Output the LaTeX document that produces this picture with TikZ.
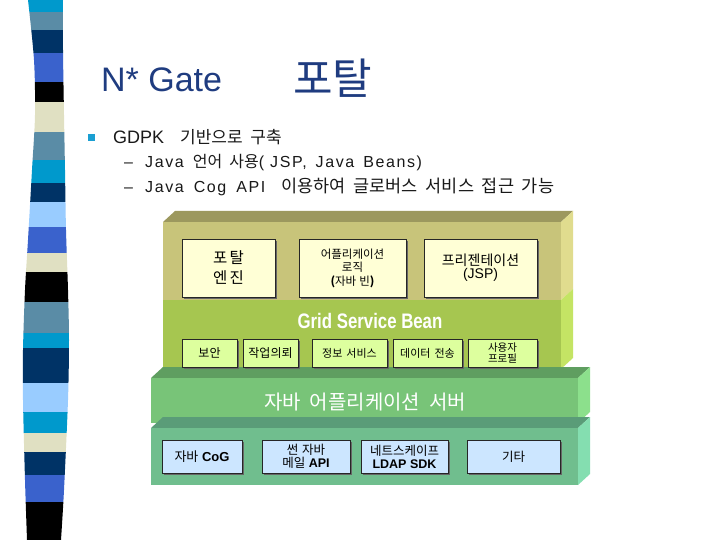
\documentclass[tikz,border=0pt]{standalone}
\usepackage{fontspec}
\setmainfont{Liberation Sans}
\newfontfamily\kr{Noto Sans CJK KR}
\newfontfamily\krw[WordSpace=2]{Noto Sans CJK KR}
\newfontfamily\latw[LetterSpace=10]{Liberation Sans}
\newcommand{\wsp}[1]{\hspace{#1pt}}
\usetikzlibrary{shadows}
\definecolor{sCyan}{HTML}{0099CC}
\definecolor{sSteel}{HTML}{5A8CA6}
\definecolor{sNavy}{HTML}{003366}
\definecolor{sRoyal}{HTML}{3A62CC}
\definecolor{sBeige}{HTML}{E0E0C2}
\definecolor{sLight}{HTML}{99CCFF}
\definecolor{titleblue}{HTML}{1F3C80}
\definecolor{bulletblue}{HTML}{1A9FD2}
\definecolor{oliveTop}{HTML}{9C985E}
\definecolor{oliveFront}{HTML}{C8C47A}
\definecolor{oliveSide}{HTML}{E0DC8E}
\definecolor{grnFront}{HTML}{A6C650}
\definecolor{grnSide}{HTML}{C4E464}
\definecolor{srvTop}{HTML}{5F9E60}
\definecolor{srvFront}{HTML}{78C478}
\definecolor{srvSide}{HTML}{8CE08C}
\definecolor{botTop}{HTML}{5A9C78}
\definecolor{botFront}{HTML}{70BE8E}
\definecolor{botSide}{HTML}{84DEB0}
\definecolor{boxY}{HTML}{FFFFD6}
\definecolor{boxG}{HTML}{DDFF9E}
\definecolor{boxB}{HTML}{CCE6FF}
\tikzset{
  basebox/.style={draw=black!85, line width=0.7pt, align=center, inner sep=1pt,
    general shadow={fill=black!60, shadow xshift=2pt, shadow yshift=-2pt}},
  ybox/.style={basebox, fill=boxY, minimum height=58pt},
  gbox/.style={basebox, fill=boxG, minimum height=28pt},
  bbox/.style={basebox, fill=boxB, minimum height=33pt},
  bodytext/.style={anchor=base west, inner sep=0pt, text=black!90}
}
\begin{document}
\begin{tikzpicture}[x=1pt,y=-1pt]
\useasboundingbox (0,0) rectangle (720,540);
\fill[white] (0,0) rectangle (720,540);
% left stripe
\begin{scope}
\clip plot[smooth] coordinates {(28,0) (34,60) (35,115) (32,170) (28,240) (25,290) (23,350) (23,400) (25,480) (27,540)}
  -- plot[smooth] coordinates {(61,540) (64,490) (68,400) (69,340) (68,290) (66,230) (65,170) (64,115) (63,50) (63,0)} -- cycle;
\fill[sCyan]  (10,0)   rectangle (80,12);
\fill[sSteel] (10,12)  rectangle (80,30);
\fill[sNavy]  (10,30)  rectangle (80,53);
\fill[sRoyal] (10,53)  rectangle (80,82);
\fill[black]  (10,82)  rectangle (80,102);
\fill[sBeige] (10,102) rectangle (80,132);
\fill[sSteel] (10,132) rectangle (80,160);
\fill[sCyan]  (10,160) rectangle (80,183);
\fill[sNavy]  (10,183) rectangle (80,202);
\fill[sLight] (10,202) rectangle (80,227);
\fill[sRoyal] (10,227) rectangle (80,253);
\fill[sBeige] (10,253) rectangle (80,272);
\fill[black]  (10,272) rectangle (80,302);
\fill[sSteel] (10,302) rectangle (80,333);
\fill[sCyan]  (10,333) rectangle (80,348);
\fill[sNavy]  (10,348) rectangle (80,383);
\fill[sLight] (10,383) rectangle (80,412);
\fill[sCyan]  (10,412) rectangle (80,433);
\fill[sBeige] (10,433) rectangle (80,452);
\fill[sNavy]  (10,452) rectangle (80,475);
\fill[sRoyal] (10,475) rectangle (80,502);
\fill[black]  (10,502) rectangle (80,540);
\end{scope}
% title
\node[anchor=base west, inner sep=0pt, text=titleblue, font=\fontsize{34}{40}\selectfont] (title) at (101,92) {N* Gate};
\node[anchor=base west, inner sep=0pt, text=titleblue, font=\fontsize{43}{46}\selectfont\kr] (title2) at (293,95) {포탈};
% bullets
\fill[bulletblue] (88,134) rectangle (95,141);
\node[bodytext, font=\fontsize{18}{20}\selectfont] (l1) at (113,144) {GDPK\wsp{16}{\krw\fontsize{17}{18}\selectfont 기반으로 구축}};
\node[bodytext, font=\fontsize{16}{18}\selectfont] (d2) at (124,168) {–};
\node[bodytext, font=\fontsize{16}{18}\selectfont] (l2) at (145,168) {{\latw Java}\wsp{9}{\krw\fontsize{16}{18}\selectfont 언어 사용}{\latw ( JSP,}\wsp{9}{\latw Java}\wsp{9}{\latw Beans)}};
\node[bodytext, font=\fontsize{16}{18}\selectfont] (d3) at (124,193) {–};
\node[bodytext, font=\fontsize{16}{18}\selectfont] (l3) at (145,193) {{\latw Java}\wsp{10}{\latw Cog}\wsp{10}{\latw API}\wsp{16}{\krw\fontsize{17.5}{18}\selectfont 이용하여 글로버스 서비스 접근 가능}};
% block 1 (portal + grid service bean)
\fill[oliveTop] (163,222) -- (175,211) -- (573,211) -- (561,222) -- cycle;
\fill[oliveFront] (163,222) rectangle (561,300);
\fill[grnFront] (163,300) rectangle (561,369);
\fill[oliveSide] (561,222) -- (573,211) -- (573,289) -- (561,300) -- cycle;
\fill[grnSide] (561,300) -- (573,289) -- (573,358) -- (561,369) -- cycle;
% block 2 (java app server)
\fill[srvTop] (151,378) -- (163,367) -- (590,367) -- (578,378) -- cycle;
\fill[srvFront] (151,378) rectangle (578,423);
\fill[srvSide] (578,378) -- (590,367) -- (590,412) -- (578,423) -- cycle;
% block 3
\fill[botTop] (151,428) -- (163,417) -- (590,417) -- (578,428) -- cycle;
\fill[botFront] (151,428) rectangle (578,485);
\fill[botSide] (578,428) -- (590,417) -- (590,474) -- (578,485) -- cycle;
% top boxes
\node[ybox, minimum width=93pt, font=\fontsize{15.5}{20}\selectfont\kr] (pe) at (228.5,268) {포\hspace{2pt}탈\\엔\hspace{2pt}진};
\node[ybox, minimum width=107pt, font=\fontsize{11.5}{13.5}\selectfont\kr] (al) at (352.5,268) {어플리케이션\\로직\\{\bfseries (}자바\hspace{3pt}빈{\bfseries )}};
\node[ybox, minimum width=113pt, font=\fontsize{14}{13}\selectfont\kr] (pr) at (480.5,268) {프리젠테이션\\{\normalfont\fontsize{14}{13}\selectfont (JSP)}};
% grid service bean
\node[inner sep=0pt, text=white, font=\fontsize{20}{22}\selectfont\bfseries] (gsb) at (370,321) {\scalebox{0.84}[1.05]{Grid Service Bean}};
\node[gbox, minimum width=55pt, font=\fontsize{12}{14}\selectfont\kr] (sec) at (209.5,353) {보안};
\node[gbox, minimum width=55pt, font=\fontsize{12}{14}\selectfont\kr] (job) at (270.5,353) {작업의뢰};
\node[gbox, minimum width=75pt, font=\fontsize{11}{14}\selectfont\kr] (info) at (349.5,353) {정보\hspace{4pt}서비스};
\node[gbox, minimum width=69pt, font=\fontsize{11}{14}\selectfont\kr] (data) at (427.5,353) {데이터\hspace{4pt}전송};
\node[gbox, minimum width=69pt, font=\fontsize{10.5}{11.5}\selectfont\kr] (user) at (502.5,353) {사용자\\프로필};
% server label
\node[inner sep=0pt, text=white, font=\fontsize{20}{22}\selectfont\krw] (srv) at (365,402) {자바 어플리케이션 서버};
% bottom boxes
\node[bbox, minimum width=80pt, font=\fontsize{13}{15}\selectfont] (cog) at (202,456.5) {{\kr 자바} \textbf{CoG}};
\node[bbox, minimum width=88pt, font=\fontsize{12.5}{13}\selectfont] (mail) at (306,456.5) {{\kr 썬\hspace{4pt}자바}\\{\kr 메일} \textbf{API}};
\node[bbox, minimum width=87pt, font=\fontsize{12.5}{13}\selectfont] (ldap) at (404.5,456.5) {{\kr 네트스케이프}\\\textbf{LDAP SDK}};
\node[bbox, minimum width=93pt, font=\fontsize{12.5}{14}\selectfont\kr] (etc) at (513.5,456.5) {기타};
\end{tikzpicture}
\end{document}
